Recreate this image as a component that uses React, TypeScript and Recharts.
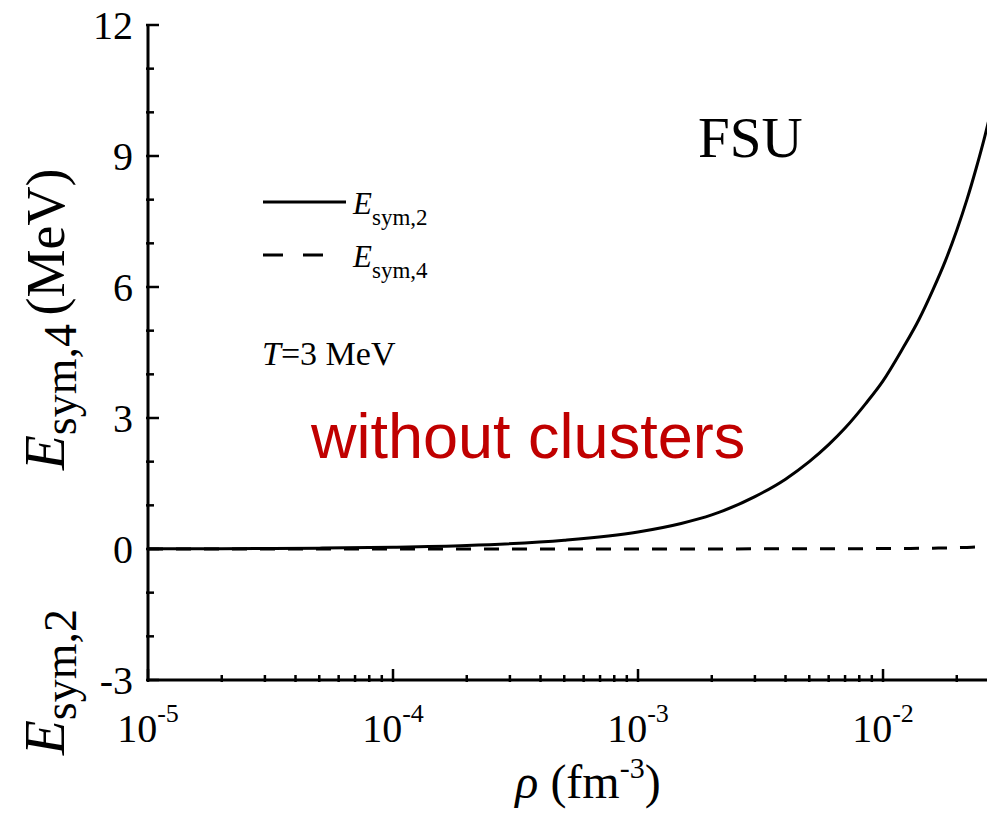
import React from "react";
import { LineChart, Line, XAxis, YAxis, Legend } from "recharts";

// density (fm^-3) and the two symmetry-energy terms (MeV), T = 3 MeV, FSU
const RHO = [
  1e-5, 2e-5, 5e-5, 1e-4, 2e-4, 5e-4, 1e-3, 1.5e-3, 2e-3, 3e-3, 4e-3, 5e-3,
  6e-3, 7e-3, 8.5e-3, 1e-2, 1.2e-2, 1.4e-2, 1.6e-2, 1.8e-2, 2e-2, 2.2e-2,
  2.4e-2, 2.6e-2, 2.733e-2,
];
const ESYM2 = [
  0.004, 0.008, 0.02, 0.04, 0.08, 0.2, 0.39, 0.585, 0.78, 1.2, 1.6, 2.0,
  2.39, 2.77, 3.33, 3.85, 4.58, 5.25, 5.94, 6.61, 7.3, 8.0, 8.72, 9.44, 9.93,
];
const ESYM4 = [
  0, 0, 0, 0, 0, 0, 0, 0.001, 0.002, 0.003, 0.004, 0.005, 0.006, 0.007, 0.008,
  0.01, 0.013, 0.016, 0.02, 0.025, 0.03, 0.037, 0.045, 0.052, 0.058,
];

const X_DOMAIN = [1e-5, 2.733e-2];
const X_MAJOR = [1e-5, 1e-4, 1e-3, 1e-2];
const X_EXP = ["-5", "-4", "-3", "-2"];
const X_MINOR = [
  2e-5, 3e-5, 4e-5, 5e-5, 6e-5, 7e-5, 8e-5, 9e-5,
  2e-4, 3e-4, 4e-4, 5e-4, 6e-4, 7e-4, 8e-4, 9e-4,
  2e-3, 3e-3, 4e-3, 5e-3, 6e-3, 7e-3, 8e-3, 9e-3,
  2e-2,
];
const X_TICKS = [...X_MAJOR, ...X_MINOR];
const Y_MAJOR = [-3, 0, 3, 6, 9, 12];
const Y_TICKS = [-3, -2, -1, 0, 1, 2, 3, 4, 5, 6, 7, 8, 9, 10, 11, 12];

const LEGEND_SUBS = ["sym,2", "sym,4"];
const LEGEND_DASH = [undefined, "20 20"];
const LEGEND_LEN = [83, 61];

const data = RHO.map((rho, i) => ({ rho, e2: ESYM2[i], e4: ESYM4[i] }));

const SERIF = "'Liberation Serif', 'Times New Roman', serif";
const SANS = "'Liberation Sans', Arial, sans-serif";

const BottomTick = (props: any) => {
  const { x, y, payload } = props;
  const idx = X_MAJOR.indexOf(payload.value);
  const major = idx >= 0;
  return (
    <g>
      <line x1={x} x2={x} y1={y} y2={y - (major ? 13 : 7)} stroke="#000" strokeWidth={2.5} />
      {major && (
        <text x={x} y={y + 60} textAnchor="middle" fontFamily={SERIF} fontSize={40} fill="#000">
          10
          <tspan dy={-20} fontSize={26}>{X_EXP[idx]}</tspan>
        </text>
      )}
    </g>
  );
};

const TopTick = (props: any) => {
  const { x, y, payload } = props;
  const major = X_MAJOR.includes(payload.value);
  return <line x1={x} x2={x} y1={y} y2={y + (major ? 13 : 7)} stroke="#000" strokeWidth={2.5} />;
};

const LeftTick = (props: any) => {
  const { x, y, payload } = props;
  const major = Y_MAJOR.includes(payload.value);
  return (
    <g>
      <line x1={x} x2={x + (major ? 13 : 8)} y1={y} y2={y} stroke="#000" strokeWidth={2.5} />
      {major && (
        <text x={x - 13} y={y + 14} textAnchor="end" fontFamily={SERIF} fontSize={40} fill="#000">
          {payload.value}
        </text>
      )}
    </g>
  );
};

// right frame lies just past the picture edge, only tick tips show
const RightTick = (props: any) => {
  const { x, y, payload } = props;
  const major = Y_MAJOR.includes(payload.value);
  return <line x1={x} x2={x - (major ? 13 : 8)} y1={y} y2={y} stroke="#000" strokeWidth={2.5} />;
};

// y title: three pieces placed along the left margin
const YTitle = () => {
  const bx = 64;
  const piece = (cy: number, body: React.ReactNode, key: string, fs = 57) => (
    <text
      key={key}
      x={bx}
      y={cy}
      transform={`rotate(-90, ${bx}, ${cy})`}
      textAnchor="middle"
      fontFamily={SERIF}
      fontSize={fs}
      fill="#000"
    >
      {body}
    </text>
  );
  return (
    <g>
      {piece(682, <><tspan fontStyle="italic">E</tspan><tspan fontSize={46} dy={12}>sym,2</tspan></>, "a")}
      {piece(397, <><tspan fontStyle="italic">E</tspan><tspan fontSize={46} dy={12}>sym,4</tspan></>, "b")}
      {piece(242, "(MeV)", "c", 54)}
    </g>
  );
};

const XTitle = () => (
  <text x={588} y={798} textAnchor="middle" fontFamily={SERIF} fontSize={48} fill="#000">
    <tspan fontStyle="italic">ρ</tspan>
    <tspan> (fm</tspan>
    <tspan dy={-20} fontSize={30}>-3</tspan>
    <tspan dy={20}>)</tspan>
  </text>
);

const renderLegend = (props: any) => {
  const items = props.payload || [];
  return (
    <svg width={260} height={110} style={{ display: "block", overflow: "visible" }}>
      {items.map((it: any, i: number) => {
        const y = 14 + i * 53;
        return (
          <g key={i}>
            <line x1={0} x2={LEGEND_LEN[i]} y1={y} y2={y} stroke="#000" strokeWidth={3} strokeDasharray={LEGEND_DASH[i]} />
            <text x={90} y={y + 12} fontFamily={SERIF} fontSize={31} fill="#000">
              <tspan fontStyle="italic">E</tspan>
              <tspan fontSize={23} dy={11}>{LEGEND_SUBS[i]}</tspan>
            </text>
          </g>
        );
      })}
    </svg>
  );
};

export default function App() {
  return (
    <div style={{ position: "fixed", left: 0, top: 0, width: 987, height: 819, overflow: "hidden", background: "#fff" }}>
      <LineChart width={990} height={819} data={data} margin={{ top: 25, right: 0, left: 0, bottom: 0 }}>
        <XAxis
          xAxisId="b"
          dataKey="rho"
          type="number"
          scale="log"
          domain={X_DOMAIN}
          allowDataOverflow
          ticks={X_TICKS}
          interval={0}
          tick={<BottomTick />}
          tickLine={false}
          tickSize={0}
          axisLine={{ stroke: "#000", strokeWidth: 3 }}
          height={139}
          label={<XTitle />}
        />
        <XAxis
          xAxisId="t"
          orientation="top"
          dataKey="rho"
          type="number"
          scale="log"
          domain={X_DOMAIN}
          allowDataOverflow
          ticks={X_TICKS}
          interval={0}
          tick={<TopTick />}
          tickLine={false}
          tickSize={0}
          axisLine={{ stroke: "#000", strokeWidth: 3 }}
          height={0}
        />
        <YAxis
          yAxisId="l"
          type="number"
          domain={[-3, 12]}
          allowDataOverflow
          ticks={Y_TICKS}
          interval={0}
          tick={<LeftTick />}
          tickLine={false}
          tickSize={0}
          axisLine={{ stroke: "#000", strokeWidth: 3 }}
          width={148}
          label={<YTitle />}
        />
        <YAxis
          yAxisId="r"
          orientation="right"
          type="number"
          domain={[-3, 12]}
          allowDataOverflow
          ticks={Y_TICKS}
          interval={0}
          tick={<RightTick />}
          tickLine={false}
          tickSize={0}
          axisLine={{ stroke: "#000", strokeWidth: 3 }}
          width={0}
        />
        <Legend
          layout="vertical"
          align="center"
          verticalAlign="middle"
          content={renderLegend}
          wrapperStyle={{ left: 263, top: 188, width: 260, height: 110 }}
        />
        <Line
          xAxisId="b"
          yAxisId="l"
          dataKey="e2"
          name="Esym2"
          type="monotone"
          stroke="#000"
          strokeWidth={3}
          dot={false}
          activeDot={false}
          isAnimationActive={false}
        />
        <Line
          xAxisId="b"
          yAxisId="l"
          dataKey="e4"
          name="Esym4"
          type="monotone"
          stroke="#000"
          strokeWidth={3}
          strokeDasharray="15 13"
          dot={false}
          activeDot={false}
          isAnimationActive={false}
        />
      </LineChart>
      <svg
        width={987}
        height={819}
        style={{ position: "absolute", left: 0, top: 0, pointerEvents: "none" }}
      >
        <text x={698} y={157} fontFamily={SERIF} fontSize={57} fill="#000">FSU</text>
        <text x={262} y={365} fontFamily={SERIF} fontSize={34} fill="#000">
          <tspan fontStyle="italic">T</tspan>=3 MeV
        </text>
        <text x={311} y={458} fontFamily={SANS} fontSize={63} fill="#c00000">without clusters</text>
      </svg>
    </div>
  );
}
